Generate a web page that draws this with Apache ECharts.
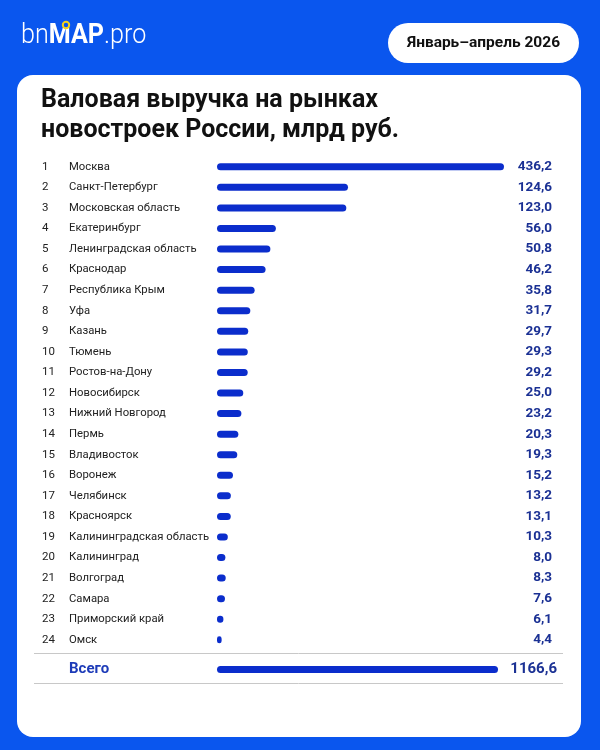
<!DOCTYPE html>
<html>
<head>
<meta charset="utf-8">
<script src="https://cdn.jsdelivr.net/npm/echarts@6/dist/echarts.min.js"></script>
<style>
html,body{margin:0;padding:0;background:#0a56ee;}
#chart{width:600px;height:750px;}
</style>
</head>
<body>
<div id="chart"></div>
<script>
// ---- data ----
const regions = ['Москва','Санкт-Петербург','Московская область','Екатеринбург','Ленинградская область','Краснодар','Республика Крым','Уфа','Казань','Тюмень','Ростов-на-Дону','Новосибирск','Нижний Новгород','Пермь','Владивосток','Воронеж','Челябинск','Красноярск','Калининградская область','Калининград','Волгоград','Самара','Приморский край','Омск'];
const revenue = [436.2,124.6,123.0,56.0,50.8,46.2,35.8,31.7,29.7,29.3,29.2,25.0,23.2,20.3,19.3,15.2,13.2,13.1,10.3,8.0,8.3,7.6,6.1,4.4];
const totalLabel = ['Всего'];
const totalValue = [1166.6];
const titleLines = ['Валовая выручка на рынках', 'новостроек России, млрд руб.'];
const periodText = 'Январь–апрель 2026';

const fmt = v => v.toFixed(1).replace('.', ',');

const FONT = 'Roboto, "Noto Sans", sans-serif';
const BAR = '#0b2dcc';
const VAL = '#1b3194';

const chart = echarts.init(document.getElementById('chart'), null, {renderer: 'canvas'});

const option = {
  backgroundColor: '#0a56ee',
  animation: false,
  grid: [
    {left: 217, width: 287, top: 156.5, height: 493.6, containLabel: false},
    {left: 217, width: 281, top: 659.5, height: 20, containLabel: false}
  ],
  xAxis: [
    {type: 'value', gridIndex: 0, min: 0, max: 273, show: false},
    {type: 'value', gridIndex: 1, min: 0, max: 267.6, show: false}
  ],
  yAxis: [
    {
      type: 'category', gridIndex: 0, data: regions, inverse: true,
      axisLine: {show: false}, axisTick: {show: false}, splitLine: {show: false},
      axisLabel: {
        margin: 175, align: 'left', fontFamily: FONT,
        formatter: (v, i) => '{r|' + (i + 1) + '}{n|' + v + '}',
        rich: {
          r: {width: 27, fontSize: 11.5, color: '#222', fontFamily: FONT},
          n: {fontSize: 11.3, color: '#222', fontFamily: FONT}
        }
      }
    },
    {
      type: 'category', gridIndex: 0, data: revenue.map(fmt), inverse: true, position: 'right',
      axisLine: {show: false}, axisTick: {show: false}, splitLine: {show: false},
      axisLabel: {margin: 48, align: 'right', fontSize: 13.5, fontWeight: 'bold', color: VAL, fontFamily: FONT}
    },
    {
      type: 'category', gridIndex: 1, data: totalLabel,
      axisLine: {show: false}, axisTick: {show: false}, splitLine: {show: false},
      axisLabel: {margin: 148, align: 'left', fontSize: 15, fontWeight: 'bold', color: '#1d3bb8', fontFamily: FONT}
    },
    {
      type: 'category', gridIndex: 1, data: totalValue.map(fmt), position: 'right',
      axisLine: {show: false}, axisTick: {show: false}, splitLine: {show: false},
      axisLabel: {margin: 59, align: 'right', fontSize: 15, fontWeight: 'bold', color: VAL, fontFamily: FONT}
    }
  ],
  series: [
    {
      type: 'bar', xAxisIndex: 0, yAxisIndex: 0, data: revenue, barWidth: 7, clip: true,
      itemStyle: {color: BAR, borderRadius: 3.5}
    },
    {
      type: 'bar', xAxisIndex: 1, yAxisIndex: 2, data: totalValue, barWidth: 7, clip: true,
      itemStyle: {color: BAR, borderRadius: 3.5}
    }
  ],
  graphic: [
    {type: 'rect', z: -10, shape: {x: 17, y: 75, width: 564, height: 662, r: 16}, style: {fill: '#ffffff'}},
    {type: 'rect', z: -10, shape: {x: 388, y: 23, width: 191, height: 40, r: 20}, style: {fill: '#ffffff'}},
    {type: 'text', z: 10, x: 483.5, y: 43, style: {text: periodText, font: 'bold 15.5px ' + FONT, fill: '#111', align: 'center', verticalAlign: 'middle'}},
    {type: 'text', z: 10, x: 21, y: 36, scaleX: 0.93, style: {
      text: '{a|bn}{b|MAP}{a|.pro}', verticalAlign: 'middle',
      rich: {
        a: {fontSize: 27, fontWeight: 300, fill: '#fff', color: '#fff', fontFamily: FONT},
        b: {fontSize: 27, fontWeight: 'bold', fill: '#fff', color: '#fff', fontFamily: FONT}
      }
    }},
    {type: 'circle', z: 11, shape: {cx: 66, cy: 25, r: 3.2}, style: {fill: '#0a56ee', stroke: '#f3d21c', lineWidth: 2}},
    {type: 'text', z: 10, x: 41, y: 101, style: {text: titleLines[0], font: 'bold 25px ' + FONT, fill: '#111', verticalAlign: 'middle'}},
    {type: 'text', z: 10, x: 41, y: 131, style: {text: titleLines[1], font: 'bold 25px ' + FONT, fill: '#111', verticalAlign: 'middle'}},
    {type: 'line', z: 5, shape: {x1: 34, y1: 653.5, x2: 563, y2: 653.5}, style: {stroke: '#c8c8c8', lineWidth: 1}},
    {type: 'line', z: 5, shape: {x1: 34, y1: 683.5, x2: 563, y2: 683.5}, style: {stroke: '#c8c8c8', lineWidth: 1}}
  ]
};
chart.setOption(option);
</script>
</body>
</html>
